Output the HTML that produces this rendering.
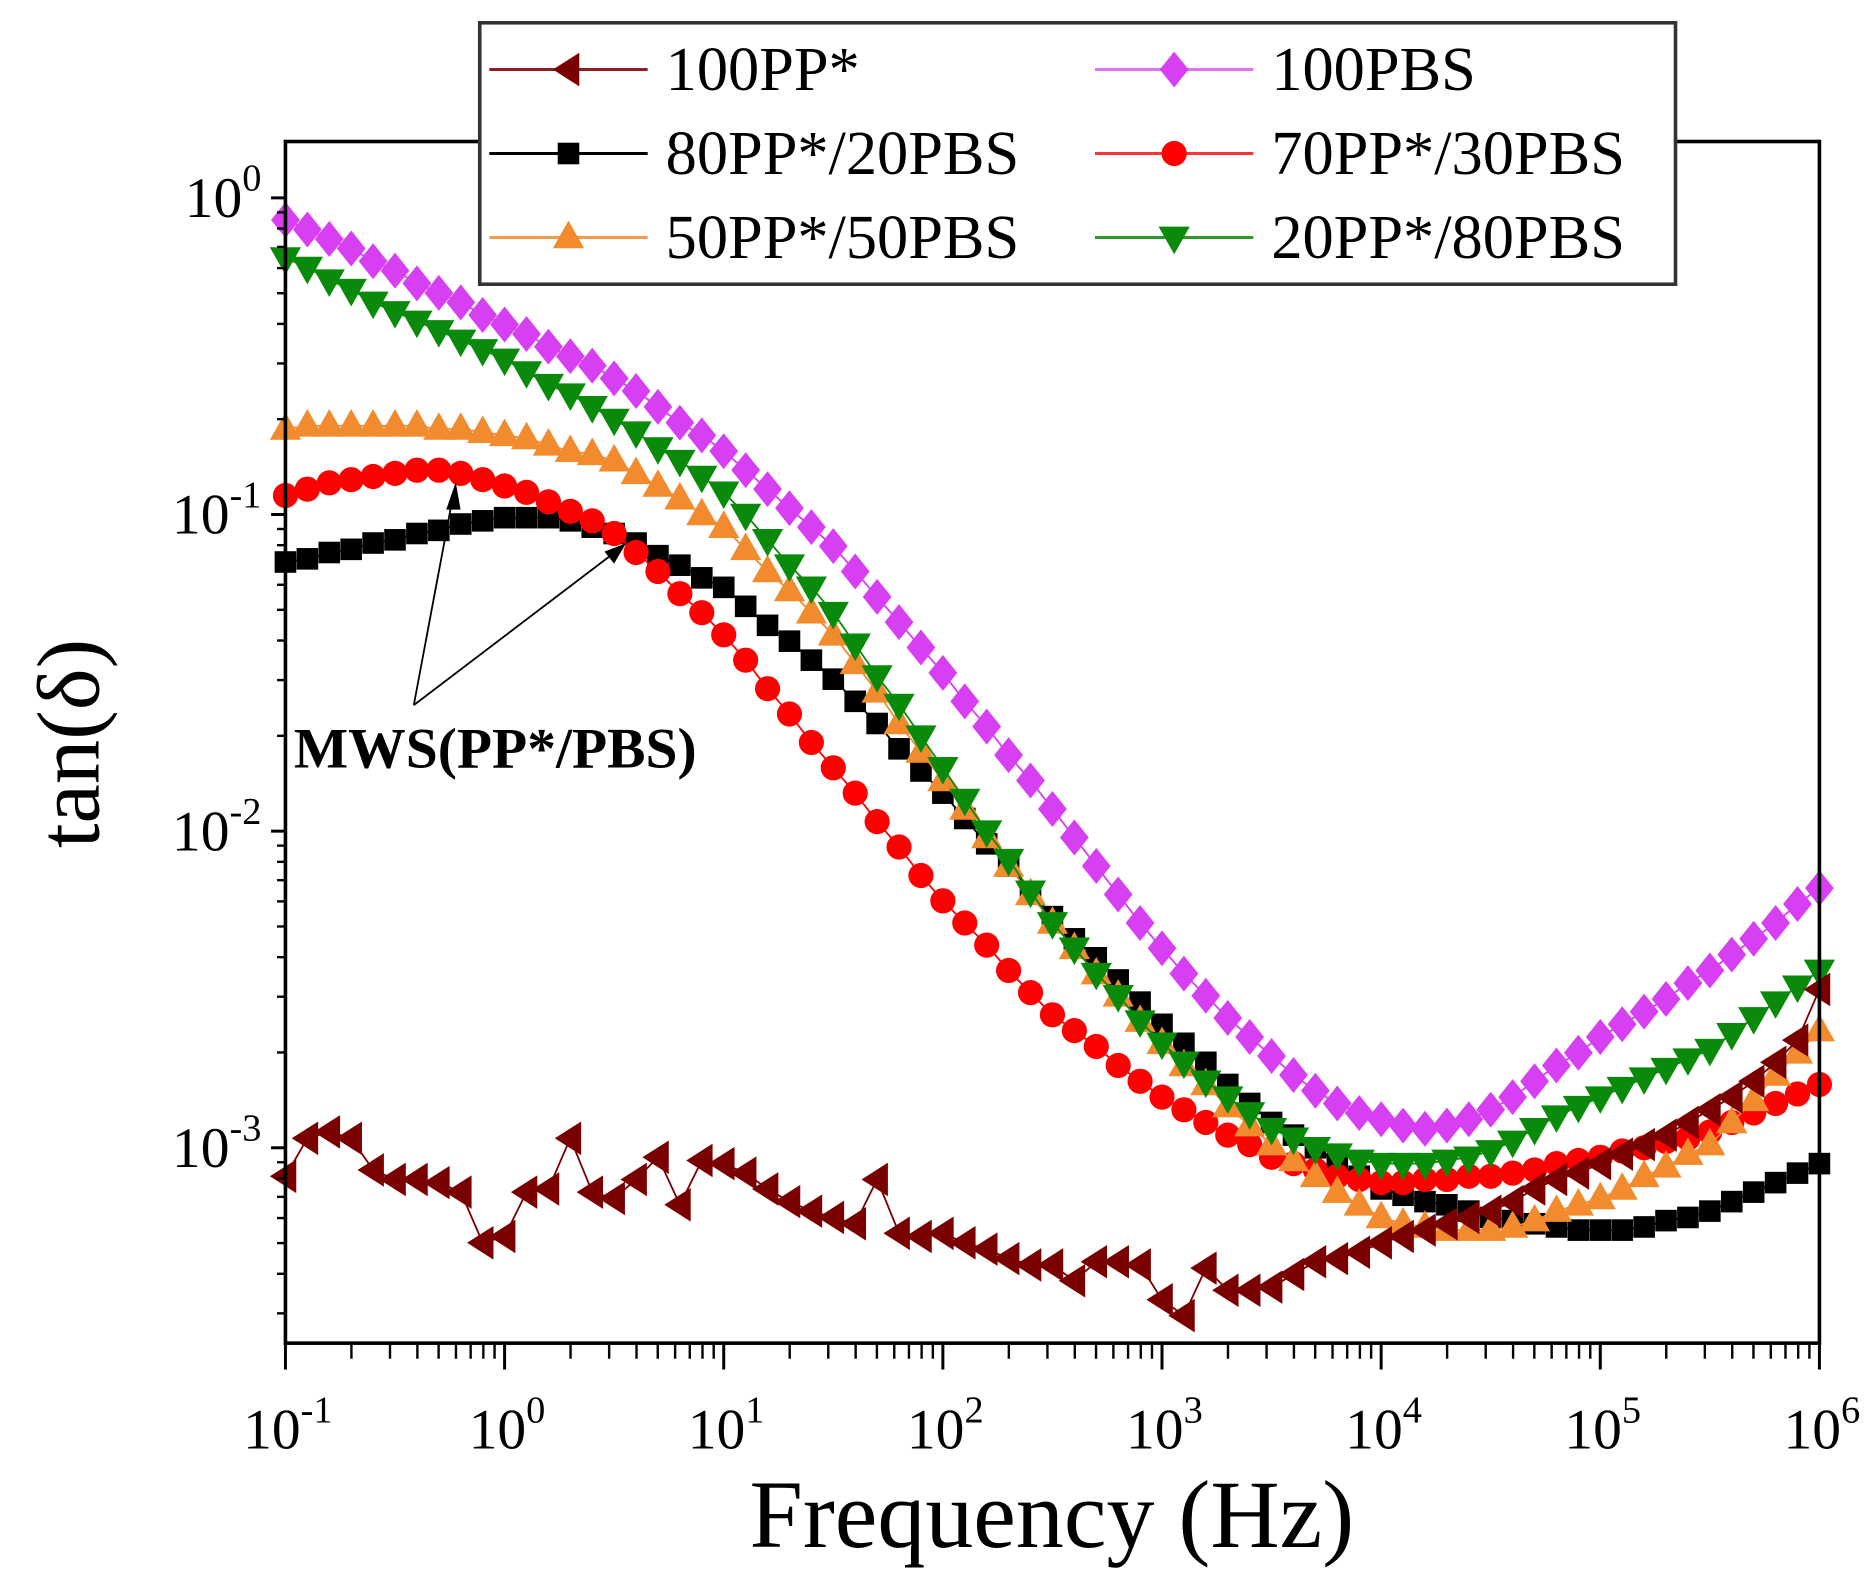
<!DOCTYPE html>
<html><head><meta charset="utf-8"><style>html,body{margin:0;padding:0;background:#fff}svg{display:block}</style></head>
<body>
<svg id="chart" width="1871" height="1577" viewBox="0 0 1560 1315" preserveAspectRatio="none" xmlns="http://www.w3.org/2000/svg" font-family="'Liberation Serif', serif">
<g id="marks"></g>
<g id="axes"></g>
</svg>
<script>
// log10(frequency) from -1 to 6 in 0.1 decade steps; values are log10(tan delta)
const xStart = -1, xStep = 0.1;
const pp100 = [-3.09,-2.97,-2.95,-2.97,-3.07,-3.10,-3.10,-3.11,-3.14,-3.30,-3.28,-3.14,-3.13,-2.97,-3.14,-3.16,-3.10,-3.03,-3.18,-3.04,-3.05,-3.08,-3.13,-3.17,-3.20,-3.22,-3.24,-3.10,-3.27,-3.28,-3.27,-3.30,-3.32,-3.35,-3.37,-3.37,-3.42,-3.36,-3.36,-3.37,-3.48,-3.53,-3.38,-3.45,-3.45,-3.44,-3.40,-3.36,-3.35,-3.33,-3.30,-3.28,-3.26,-3.24,-3.22,-3.20,-3.17,-3.13,-3.10,-3.08,-3.05,-3.02,-2.99,-2.96,-2.92,-2.88,-2.84,-2.79,-2.73,-2.66,-2.50];
const pbs100 = [-0.07,-0.10,-0.13,-0.16,-0.20,-0.23,-0.27,-0.30,-0.33,-0.37,-0.40,-0.43,-0.47,-0.50,-0.53,-0.57,-0.61,-0.66,-0.71,-0.75,-0.80,-0.86,-0.92,-0.98,-1.04,-1.10,-1.18,-1.26,-1.34,-1.42,-1.50,-1.59,-1.67,-1.76,-1.84,-1.93,-2.02,-2.11,-2.20,-2.29,-2.37,-2.45,-2.52,-2.59,-2.65,-2.71,-2.77,-2.82,-2.86,-2.89,-2.91,-2.93,-2.94,-2.93,-2.91,-2.88,-2.84,-2.79,-2.74,-2.70,-2.65,-2.61,-2.57,-2.53,-2.48,-2.44,-2.39,-2.34,-2.29,-2.23,-2.18];
const b80_20 = [-1.15,-1.14,-1.12,-1.11,-1.09,-1.08,-1.06,-1.05,-1.03,-1.02,-1.01,-1.01,-1.01,-1.02,-1.04,-1.06,-1.09,-1.13,-1.16,-1.20,-1.23,-1.29,-1.35,-1.40,-1.46,-1.52,-1.59,-1.66,-1.74,-1.81,-1.88,-1.96,-2.04,-2.11,-2.19,-2.27,-2.34,-2.40,-2.47,-2.54,-2.61,-2.67,-2.73,-2.80,-2.86,-2.92,-2.96,-3.00,-3.05,-3.09,-3.13,-3.15,-3.17,-3.18,-3.20,-3.22,-3.23,-3.24,-3.25,-3.26,-3.26,-3.26,-3.25,-3.23,-3.22,-3.20,-3.17,-3.14,-3.11,-3.08,-3.05];
const b70_30 = [-0.94,-0.92,-0.90,-0.89,-0.88,-0.87,-0.86,-0.86,-0.87,-0.89,-0.91,-0.93,-0.96,-0.99,-1.02,-1.06,-1.12,-1.18,-1.25,-1.31,-1.38,-1.46,-1.55,-1.63,-1.72,-1.80,-1.88,-1.97,-2.05,-2.14,-2.22,-2.29,-2.36,-2.44,-2.51,-2.58,-2.63,-2.68,-2.74,-2.79,-2.84,-2.88,-2.92,-2.96,-2.99,-3.03,-3.05,-3.07,-3.09,-3.10,-3.11,-3.11,-3.10,-3.10,-3.09,-3.09,-3.08,-3.07,-3.05,-3.04,-3.03,-3.01,-3.00,-2.98,-2.97,-2.95,-2.92,-2.89,-2.86,-2.83,-2.80];
const b50_50 = [-0.73,-0.72,-0.72,-0.72,-0.72,-0.72,-0.72,-0.73,-0.73,-0.74,-0.75,-0.76,-0.78,-0.80,-0.81,-0.83,-0.87,-0.91,-0.95,-1.00,-1.04,-1.11,-1.18,-1.24,-1.31,-1.38,-1.47,-1.56,-1.66,-1.75,-1.84,-1.93,-2.02,-2.11,-2.20,-2.29,-2.37,-2.45,-2.52,-2.60,-2.67,-2.74,-2.80,-2.87,-2.93,-2.99,-3.04,-3.09,-3.14,-3.18,-3.22,-3.24,-3.25,-3.26,-3.26,-3.26,-3.25,-3.23,-3.20,-3.18,-3.16,-3.13,-3.09,-3.06,-3.02,-2.99,-2.92,-2.85,-2.77,-2.70,-2.63];
const b20_80 = [-0.19,-0.22,-0.26,-0.29,-0.33,-0.36,-0.39,-0.42,-0.45,-0.48,-0.51,-0.55,-0.59,-0.62,-0.66,-0.70,-0.74,-0.79,-0.83,-0.88,-0.93,-1.00,-1.08,-1.16,-1.23,-1.31,-1.41,-1.51,-1.60,-1.70,-1.80,-1.90,-2.00,-2.09,-2.19,-2.29,-2.37,-2.45,-2.52,-2.60,-2.67,-2.73,-2.79,-2.84,-2.89,-2.94,-2.97,-3.00,-3.02,-3.04,-3.05,-3.05,-3.05,-3.04,-3.03,-3.01,-2.98,-2.94,-2.90,-2.87,-2.84,-2.81,-2.78,-2.75,-2.72,-2.69,-2.64,-2.59,-2.54,-2.49,-2.44];
const xTickExps = [-1,0,1,2,3,4,5,6];
const yTickExps = [0,-1,-2,-3];
const legendLabels = ["100PP*","100PBS","80PP*/20PBS","70PP*/30PBS","50PP*/50PBS","20PP*/80PBS"];

const NS = "http://www.w3.org/2000/svg";
const L = 238, R = 1517, T = 118, B = 1120;
const xMin = -1, xMax = 6, yTop = 0.178, yBot = -3.617;
const xs = v => L + (v - xMin) / (xMax - xMin) * (R - L);
const ys = v => T + (yTop - v) / (yTop - yBot) * (B - T);
function mk(tag, attrs, parent){const e=document.createElementNS(NS,tag);for(const k in attrs)e.setAttribute(k,attrs[k]);parent.appendChild(e);return e;}
const marks = document.getElementById('marks');
const axes = document.getElementById('axes');
const cp = mk('clipPath',{id:'clip'},marks);
mk('rect',{x:L-16,y:T,width:R-L+30,height:B-T},cp);

function marker(shape, cx, cy, color, parent, s){
  s = s || 1;
  let e;
  if(shape==='left') e=mk('polygon',{points:`${cx-13*s},${cy} ${cx+9*s},${cy-14*s} ${cx+9*s},${cy+14*s}`,fill:color},parent);
  else if(shape==='diamond') e=mk('polygon',{points:`${cx},${cy-15*s} ${cx+12*s},${cy} ${cx},${cy+15*s} ${cx-12*s},${cy}`,fill:color},parent);
  else if(shape==='square') e=mk('rect',{x:cx-9*s,y:cy-9*s,width:18*s,height:18*s,fill:color},parent);
  else if(shape==='circle') e=mk('circle',{cx:cx,cy:cy,r:10.5*s,fill:color},parent);
  else if(shape==='up') e=mk('polygon',{points:`${cx},${cy-14*s} ${cx+13*s},${cy+9*s} ${cx-13*s},${cy+9*s}`,fill:color},parent);
  else if(shape==='down') e=mk('polygon',{points:`${cx},${cy+14*s} ${cx+13*s},${cy-9*s} ${cx-13*s},${cy-9*s}`,fill:color},parent);
  return e;
}
const series = [
  {d:b80_20,shape:'square',color:'#000000',name:'series-80pp-20pbs'},
  {d:b70_30,shape:'circle',color:'#ff0000',name:'series-70pp-30pbs'},
  {d:b50_50,shape:'up',color:'#f28a2e',name:'series-50pp-50pbs'},
  {d:b20_80,shape:'down',color:'#0a8a0a',name:'series-20pp-80pbs'},
  {d:pbs100,shape:'diamond',color:'#d63ff2',name:'series-100pbs'},
  {d:pp100,shape:'left',color:'#7a0000',name:'series-100pp'}
];
series.forEach(s=>{
  const g=mk('g',{},marks);
  
  
  g.setAttribute('clip-path','url(#clip)');
  const pts=s.d.map((v,i)=>`${xs(xStart+i*xStep)},${ys(v)}`).join(' ');
  mk('polyline',{points:pts,fill:'none',stroke:s.color,'stroke-width':1.5},g);
  s.d.forEach((v,i)=>{
    const m=marker(s.shape,xs(xStart+i*xStep),ys(v),s.color,g);
    
    
  });
});

const fr=mk('rect',{x:L,y:T,width:R-L,height:B-T,fill:'none',stroke:'#000','stroke-width':3},axes);


xTickExps.forEach((e,i)=>{
  const x=xs(e);
  mk('line',{x1:x,y1:B,x2:x,y2:B+22,stroke:'#000','stroke-width':2.5},axes);
  const t=mk('text',{x:x+2,y:B+88,'font-size':48,'text-anchor':'middle'},axes);
  
  
  t.innerHTML=`10<tspan dy="-22" font-size="32">${e<0?'-'+(-e):e}</tspan>`;
  if(i<xTickExps.length-1){
    for(let k=2;k<10;k++){const xm=xs(e+Math.log10(k));mk('line',{x1:xm,y1:B,x2:xm,y2:B+13,stroke:'#000','stroke-width':2},axes);}
  }
});
yTickExps.forEach(e=>{
  const y=ys(e);
  mk('line',{x1:L,y1:y,x2:L-12,y2:y,stroke:'#000','stroke-width':2.5},axes);
  const t=mk('text',{x:L-20,y:y+16,'font-size':48,'text-anchor':'end'},axes);
  
  
  t.innerHTML=`10<tspan dy="-22" font-size="32">${e<0?'-'+(-e):e}</tspan>`;
});
for(let e=-4;e<=0;e++){for(let k=2;k<10;k++){const v=e+Math.log10(k);if(v>yBot&&v<yTop){const y=ys(v);mk('line',{x1:L,y1:y,x2:L-7,y2:y,stroke:'#000','stroke-width':2},axes);}}}
const xt=mk('text',{x:877,y:1290,'font-size':80,'text-anchor':'middle'},axes);


xt.textContent='Frequency (Hz)';
const yt=mk('text',{x:82,y:620,'font-size':74,'text-anchor':'middle',transform:'rotate(-90 82 620)'},axes);


yt.textContent='tan(δ)';
const an=mk('g',{},axes);


mk('line',{x1:345,y1:588,x2:378,y2:412,stroke:'#000','stroke-width':1.5},an);
mk('line',{x1:345,y1:588,x2:516,y2:458,stroke:'#000','stroke-width':1.5},an);
mk('polygon',{points:'380,402 372,425 384,425',fill:'#000'},an);
mk('polygon',{points:'522,453 504,460 512,470',fill:'#000'},an);
const at=mk('text',{x:245,y:640,'font-size':48,'font-weight':'bold'},an);
at.textContent='MWS(PP*/PBS)';
const lg=mk('g',{},axes);


mk('rect',{x:400,y:19,width:997,height:218,fill:'#fff',stroke:'#333','stroke-width':3},lg);
const legShapes=[['left','#7a0000'],['diamond','#d63ff2'],['square','#000000'],['circle','#ff0000'],['up','#f28a2e'],['down','#0a8a0a']];
const legLine=['#8b2020','#e070f5','#000000','#ff3333','#f39a4e','#2a9a2a'];
legendLabels.forEach((lab,i)=>{
  const col=i%2, row=Math.floor(i/2);
  const x0=col?913:408, y=58+row*70;
  const e=mk('g',{},lg);
  
  
  mk('line',{x1:x0,y1:y,x2:x0+132,y2:y,stroke:legLine[i],'stroke-width':2.5},e);
  marker(legShapes[i][0],x0+66,y,legShapes[i][1],e);
  const t=mk('text',{x:x0+147,y:y+17,'font-size':52},e);
  t.textContent=lab;
});
</script>
</body></html>
